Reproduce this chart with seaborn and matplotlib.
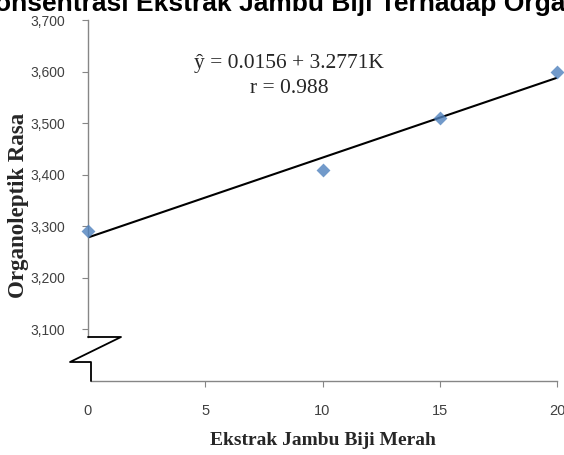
import matplotlib
matplotlib.use('Agg')
import matplotlib.pyplot as plt
import seaborn as sns
from matplotlib.ticker import FuncFormatter

# data
konsentrasi = [0, 10, 15, 20]
rasa = [3.29, 3.41, 3.51, 3.60]
x_ticks = [0, 5, 10, 15, 20]
y_ticks = [3.1, 3.2, 3.3, 3.4, 3.5, 3.6, 3.7]
judul = 'Pengaruh Konsentrasi Ekstrak Jambu Biji Terhadap Organoleptik Rasa'
persamaan = 'ŷ = 0.0156 + 3.2771K'
korelasi = 'r = 0.988'
x_label = 'Ekstrak Jambu Biji Merah'
y_label = 'Organoleptik Rasa'

sns.set_style('white')
plt.rcParams['font.family'] = ['Liberation Sans', 'DejaVu Sans']

W, H = 564, 455
fig = plt.figure(figsize=(W / 100, H / 100), dpi=100)
ax = fig.add_axes([88 / W, 74 / H, 469 / W, 361 / H])

# scatter + fitted line
sns.regplot(x=konsentrasi, y=rasa, ci=None, marker='D', ax=ax,
            scatter_kws=dict(s=50, color='#4f81bd', linewidths=0, clip_on=False, zorder=3),
            line_kws=dict(color='black', lw=1.5, zorder=2))

ax.set_xlim(0, 20)
ax.set_ylim(3.0, 3.7)
ax.set_xticks(x_ticks)
ax.set_yticks(y_ticks)
ax.yaxis.set_major_formatter(FuncFormatter(lambda v, p: f'{v:.3f}'.replace('.', ',')))

# spines with axis break
spine_col = '#868686'
for s in ['top', 'right']:
    ax.spines[s].set_visible(False)
for s in ['left', 'bottom']:
    ax.spines[s].set_color(spine_col)
    ax.spines[s].set_linewidth(1.0)
brk_y, brk_x = 0.1219, 0.0064
ax.spines['left'].set_bounds(3.0 + brk_y * 0.7, 3.7)
ax.spines['bottom'].set_bounds(brk_x * 20, 20)
ax.plot([0, 0.0704, -0.0384, brk_x, brk_x], [brk_y, brk_y, 0.0526, 0.0526, 0],
        transform=ax.transAxes, color='black', lw=1.3, clip_on=False, zorder=4)

ax.tick_params(bottom=True, left=True, direction='out', length=4.5, width=0.8,
               color=spine_col, pad=12, labelsize=10, labelcolor='#404040')
ax.tick_params(axis='x', labelsize=10.5)
ax.xaxis.get_major_ticks()[0].tick1line.set_visible(False)

# labels
ax.set_xlabel(x_label, family='Liberation Serif', fontweight='bold', fontsize=14)
ax.xaxis.set_label_coords(0.5, -0.142)
ax.set_ylabel(y_label, family='Liberation Serif', fontweight='bold', fontsize=16.5)
ax.yaxis.set_label_coords(-0.125, 0.4875)

fig.text(-153 / W, 1 - 11 / H, judul, ha='left', va='baseline',
         fontsize=19, fontweight='bold', color='black')
fig.text(289 / W, 1 - 68 / H, persamaan, ha='center', va='baseline',
         family='Liberation Serif', fontsize=15.5)
fig.text(289 / W, 1 - 93 / H, korelasi, ha='center', va='baseline',
         family='Liberation Serif', fontsize=15.5)

fig.savefig('out.png', dpi=100)
